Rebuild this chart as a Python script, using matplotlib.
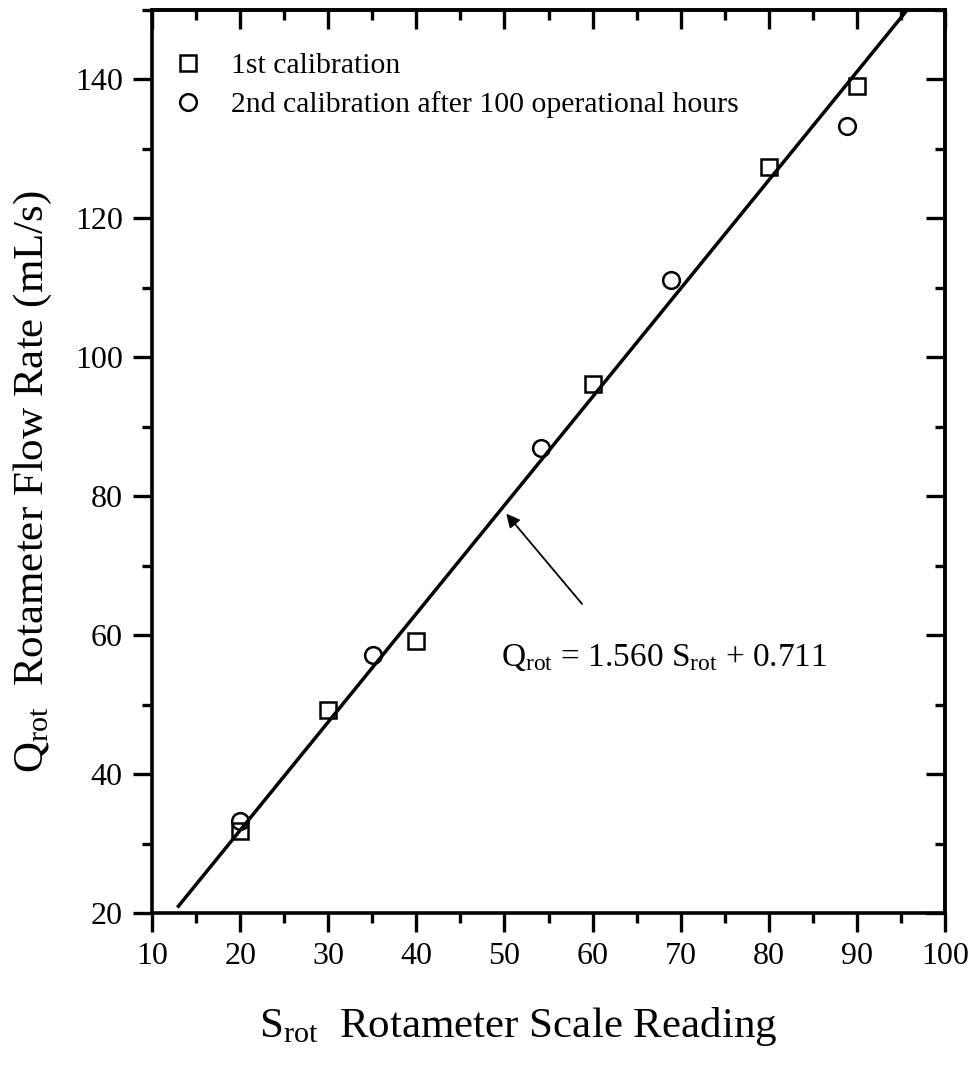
import numpy as np
import matplotlib.pyplot as plt
from matplotlib.ticker import MultipleLocator

plt.rcParams['font.family'] = ['Liberation Serif', 'DejaVu Serif']
plt.rcParams['mathtext.fontset'] = 'custom'
plt.rcParams['mathtext.rm'] = 'Liberation Serif'
plt.rcParams['mathtext.it'] = 'Liberation Serif:italic'

# 1st calibration (squares)
s1 = [20, 30, 40, 60, 80, 90]
q1 = [31.8, 49.3, 59.2, 96.2, 127.4, 139.1]
# 2nd calibration after 100 operational hours (circles)
s2 = [20, 35.1, 54.2, 68.9, 88.9]
q2 = [33.3, 57.2, 86.9, 111.2, 133.3]

slope = 1.560
intercept = 0.711
fit_x = np.array([13, 100])

fig = plt.figure(figsize=(9.77, 10.67), dpi=100)
ax = fig.add_axes([0.1556, 0.1443, 0.8117, 0.8463])

ax.plot(s1, q1, 's', ms=11, mfc='none', mec='k', mew=1.8, label='1st calibration')
ax.plot(s2, q2, 'o', ms=12, mfc='none', mec='k', mew=1.8,
        label='2nd calibration after 100 operational hours')
ax.plot(fit_x, slope*fit_x + intercept, color='k', lw=2.5)

ax.set_xlim(10, 100)
ax.set_ylim(20, 150)
ax.xaxis.set_major_locator(MultipleLocator(10))
ax.xaxis.set_minor_locator(MultipleLocator(5))
ax.yaxis.set_major_locator(MultipleLocator(20))
ax.yaxis.set_minor_locator(MultipleLocator(10))

# bottom/left ticks point out, mirrored top/right ticks point in
ax.tick_params(which='both', direction='out', width=2.4, labelsize=23, pad=7)
ax.tick_params(which='major', length=14)
ax.tick_params(which='minor', length=7)
sec_x = ax.secondary_xaxis('top')
sec_y = ax.secondary_yaxis('right')
for sec in (sec_x, sec_y):
    sec.tick_params(which='both', direction='in', width=2.4, labelsize=0)
    sec.tick_params(which='major', length=14)
    sec.tick_params(which='minor', length=7)
sec_x.xaxis.set_major_locator(MultipleLocator(10))
sec_x.xaxis.set_minor_locator(MultipleLocator(5))
sec_y.yaxis.set_major_locator(MultipleLocator(20))
sec_y.yaxis.set_minor_locator(MultipleLocator(10))
sec_x.set_xticklabels([])
sec_y.set_yticklabels([])
sec_x.spines['top'].set_linewidth(2.6)
sec_y.spines['right'].set_linewidth(2.6)
for sp in ax.spines.values():
    sp.set_linewidth(2.6)

# annotation of the fitted line
ax.annotate('', xy=(50, 77.8), xytext=(59, 64.2),
            arrowprops=dict(arrowstyle='-|>', color='k', lw=1.3, mutation_scale=20))
ax.text(49.6, 56.8, r'$\mathrm{Q_{rot}}$ = 1.560 $\mathrm{S_{rot}}$ + 0.711', fontsize=24, va='center')

ax.set_xlabel(r'$\mathrm{S_{rot}}$  Rotameter Scale Reading', fontsize=31)
ax.set_ylabel(r'$\mathrm{Q_{rot}}$  Rotameter Flow Rate (mL/s)', fontsize=31)
ax.xaxis.label.set_va('baseline')
ax.yaxis.label.set_va('baseline')
ax.xaxis.set_label_coords(0.462, -0.137)
ax.yaxis.set_label_coords(-0.1375, 0.478)

ax.legend(loc='upper left', bbox_to_anchor=(0.027, 0.953), frameon=False, fontsize=21.4,
          handletextpad=0.95, borderpad=0, borderaxespad=0, labelspacing=0.4,
          handlelength=1.0)

fig.savefig('out.png', dpi=100)
